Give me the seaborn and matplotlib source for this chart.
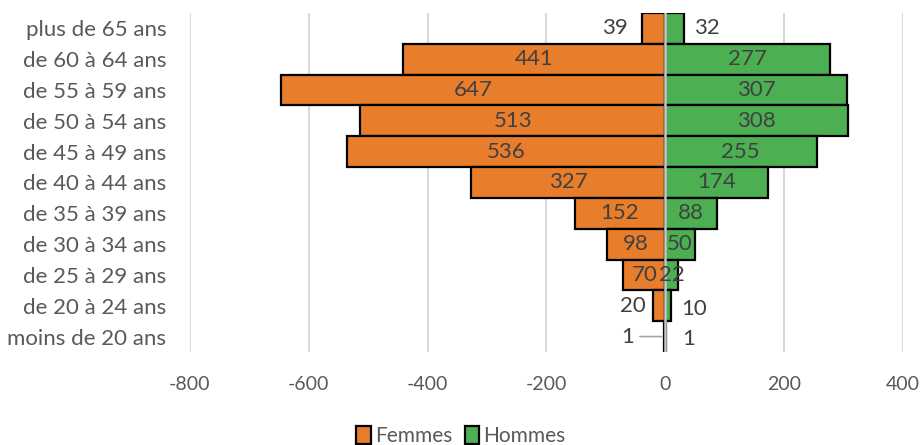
import matplotlib
matplotlib.use("Agg")
import matplotlib.pyplot as plt
import seaborn as sns
import pandas as pd
from matplotlib.patches import Patch

# Age groups, top to bottom
categories = [
    "plus de 65 ans", "de 60 à 64 ans", "de 55 à 59 ans", "de 50 à 54 ans",
    "de 45 à 49 ans", "de 40 à 44 ans", "de 35 à 39 ans", "de 30 à 34 ans",
    "de 25 à 29 ans", "de 20 à 24 ans", "moins de 20 ans",
]
femmes = [39, 441, 647, 513, 536, 327, 152, 98, 70, 20, 1]
hommes = [32, 277, 307, 308, 255, 174, 88, 50, 22, 10, 1]
x_ticks = [-800, -600, -400, -200, 0, 200, 400]
# rows whose value labels sit outside the bars
outside_rows = ["plus de 65 ans", "de 20 à 24 ans", "moins de 20 ans"]

ORANGE = "#E87D2C"
GREEN = "#4CAF52"
TEXT = "#404040"
TICK = "#595959"

sns.set_theme(style="white")
plt.rcParams["font.family"] = ["Lato", "DejaVu Sans"]

df = pd.DataFrame({
    "age": categories * 2,
    "value": [-v for v in femmes] + hommes,
    "sexe": ["Femmes"] * len(categories) + ["Hommes"] * len(categories),
})

fig = plt.figure(figsize=(9.22, 4.45), dpi=100)
ax = fig.add_axes([0.206, 0.209, 0.773, 0.762])

sns.barplot(data=df, x="value", y="age", hue="sexe", order=categories,
            hue_order=["Femmes", "Hommes"], palette=[ORANGE, GREEN],
            orient="h", dodge=False, width=1.0, saturation=1,
            edgecolor="black", linewidth=1.6, legend=False, ax=ax, zorder=3)

ax.set_xlim(-800, 400)
ax.set_ylim(len(categories) - 0.5, -0.5)
ax.set_xticks(x_ticks)
ax.set_xticklabels([str(t) for t in x_ticks])
ax.set_xlabel("")
ax.set_ylabel("")
for s in ax.spines.values():
    s.set_visible(False)
ax.grid(axis="x", color="#d9d9d9", linewidth=1.5, zorder=0)
ax.set_axisbelow(True)
ax.axvline(0, color="#c8c8c8", linewidth=1.8, zorder=6)
ax.tick_params(axis="x", length=0, pad=17, labelsize=14, labelcolor=TICK)
ax.tick_params(axis="y", length=0, pad=17, labelsize=16, labelcolor=TICK)

VAL_FS = 16
# Value labels: centred inside the bar, or beside it for the short rows
for i, (cat, f, h) in enumerate(zip(categories, femmes, hommes)):
    if cat not in outside_rows:
        ax.text(-f / 2, i, str(f), ha="center", va="center",
                color=TEXT, fontsize=VAL_FS, zorder=7)
        ax.text(h / 2, i, str(h), ha="center", va="center",
                color=TEXT, fontsize=VAL_FS, zorder=7)
        continue
    arrow = dict(arrowstyle="-", color="#a6a6a6", lw=1.2) if f < 5 else None
    dx = -10 if f > 30 else (-5 if f > 5 else -22)
    ax.annotate(str(f), xy=(-f, i), xytext=(dx, 0),
                textcoords="offset points", ha="right", va="center",
                color=TEXT, fontsize=VAL_FS, zorder=7, arrowprops=arrow)
    dx = 12 if h < 5 else 7
    dy = 0 if h > 30 else -2
    ax.annotate(str(h), xy=(h, i), xytext=(dx, dy),
                textcoords="offset points", ha="left", va="center",
                color=TEXT, fontsize=VAL_FS, zorder=7)

handles = [Patch(facecolor=ORANGE, edgecolor="black", linewidth=1.6, label="Femmes"),
           Patch(facecolor=GREEN, edgecolor="black", linewidth=1.6, label="Hommes")]
fig.legend(handles=handles, loc="lower center", ncol=2, frameon=False,
           bbox_to_anchor=(0.5, -0.045), fontsize=15, handlelength=0.7,
           handleheight=0.9, handletextpad=0.2, columnspacing=0.6,
           labelcolor=TICK)

fig.savefig("out.png", dpi=100)
